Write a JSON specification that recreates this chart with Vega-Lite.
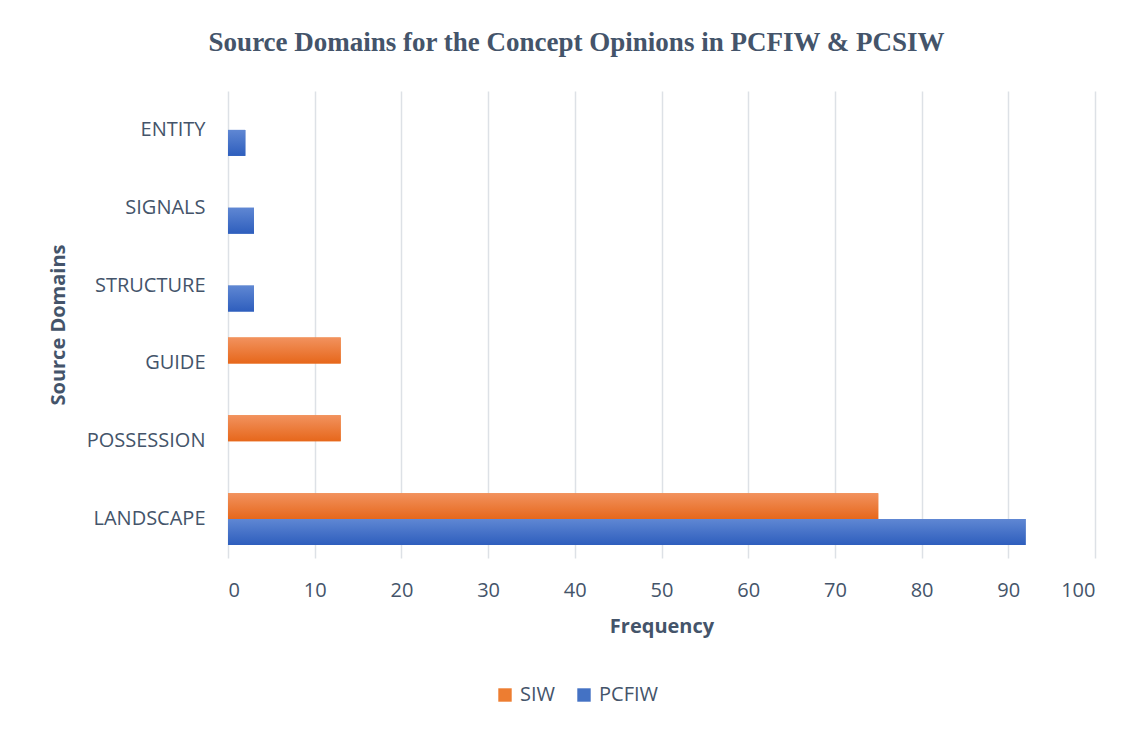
{
  "$schema": "https://vega.github.io/schema/vega-lite/v6.json",
  "width": 867,
  "height": 467,
  "autosize": {"type": "none"},
  "padding": {"left": 228, "top": 91, "right": 39, "bottom": 171},
  "background": "white",
  "title": {
    "text": "Source Domains for the Concept Opinions in PCFIW & PCSIW",
    "font": "Liberation Serif",
    "fontSize": 27,
    "fontWeight": "bold",
    "color": "#44546a",
    "anchor": "middle",
    "frame": "group",
    "dx": -85,
    "offset": 34
  },
  "data": {
    "values": [
      {"domain": "ENTITY", "series": "PCFIW", "value": 2},
      {"domain": "SIGNALS", "series": "PCFIW", "value": 3},
      {"domain": "STRUCTURE", "series": "PCFIW", "value": 3},
      {"domain": "GUIDE", "series": "SIW", "value": 13},
      {"domain": "POSSESSION", "series": "SIW", "value": 13},
      {"domain": "LANDSCAPE", "series": "SIW", "value": 75},
      {"domain": "LANDSCAPE", "series": "PCFIW", "value": 92}
    ]
  },
  "encoding": {
    "y": {
      "field": "domain",
      "type": "nominal",
      "sort": ["ENTITY", "SIGNALS", "STRUCTURE", "GUIDE", "POSSESSION", "LANDSCAPE"],
      "scale": {"paddingInner": 0.3333, "paddingOuter": 0.1667},
      "title": "Source Domains",
      "axis": {
        "domain": false,
        "ticks": false,
        "labelPadding": 23,
        "labelFont": "Open Sans",
        "labelFontSize": 20,
        "labelColor": "#44546a",
        "titleFont": "Open Sans",
        "titleFontSize": 20,
        "titleFontWeight": "bold",
        "titleColor": "#44546a",
        "titlePadding": 18
      }
    },
    "yOffset": {
      "field": "series",
      "type": "nominal",
      "scale": {"domain": ["SIW", "PCFIW"], "paddingInner": 0, "paddingOuter": 0}
    },
    "x": {
      "field": "value",
      "type": "quantitative",
      "scale": {"domain": [0, 100], "nice": false},
      "title": "Frequency",
      "axis": {
        "values": [0, 10, 20, 30, 40, 50, 60, 70, 80, 90, 100],
        "domain": false,
        "ticks": false,
        "grid": true,
        "gridColor": "#dde1e6",
        "gridWidth": 1.5,
        "labelPadding": 22,
        "labelFont": "Open Sans",
        "labelFontSize": 20,
        "labelColor": "#44546a",
        "titleFont": "Open Sans",
        "titleFontSize": 20,
        "titleFontWeight": "bold",
        "titleColor": "#44546a",
        "titlePadding": 16
      }
    }
  },
  "layer": [
    {
      "mark": {"type": "bar"},
      "encoding": {
        "color": {
          "field": "series",
          "type": "nominal",
          "scale": {"domain": ["SIW", "PCFIW"], "range": ["#ed7d31", "#4472c4"]},
          "legend": {
            "title": null,
            "orient": "none",
            "direction": "horizontal",
            "legendX": 267,
            "legendY": 594,
            "symbolType": "square",
            "symbolSize": 180,
            "symbolStrokeWidth": 0,
            "labelFont": "Open Sans",
            "labelFontSize": 20,
            "labelColor": "#44546a",
            "columnPadding": 18,
            "labelOffset": 5
          }
        }
      }
    },
    {
      "transform": [{"filter": "datum.series === 'SIW'"}],
      "mark": {
        "type": "bar",
        "color": {
          "gradient": "linear",
          "x1": 0, "y1": 0, "x2": 0, "y2": 1,
          "stops": [
            {"offset": 0, "color": "#f2925e"},
            {"offset": 1, "color": "#e6671b"}
          ]
        }
      }
    },
    {
      "transform": [{"filter": "datum.series === 'PCFIW'"}],
      "mark": {
        "type": "bar",
        "color": {
          "gradient": "linear",
          "x1": 0, "y1": 0, "x2": 0, "y2": 1,
          "stops": [
            {"offset": 0, "color": "#5f87d3"},
            {"offset": 1, "color": "#2e5ebd"}
          ]
        }
      }
    }
  ],
  "config": {"view": {"stroke": null}}
}
